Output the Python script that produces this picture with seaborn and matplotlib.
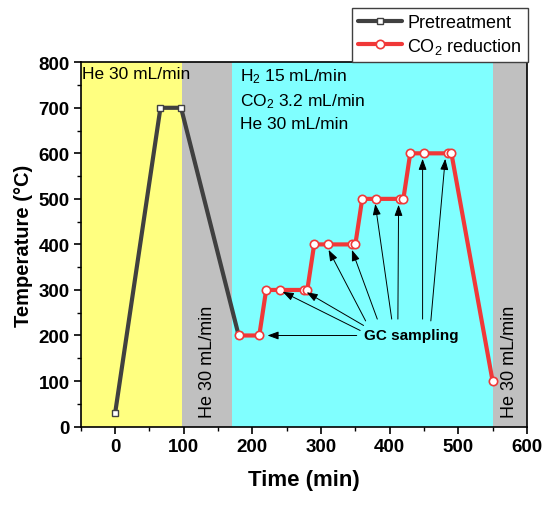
import matplotlib
matplotlib.use("Agg")
import matplotlib.pyplot as plt
import seaborn as sns
import pandas as pd
from matplotlib.ticker import MultipleLocator

# ---- data ----
pre_time = [0, 66, 96, 180]
pre_temp = [30, 700, 700, 200]
co2_time = [180, 210, 220, 240, 275, 280, 290, 310, 345, 350, 360, 380, 415, 420, 430, 450, 485, 490, 550]
co2_temp = [200, 200, 300, 300, 300, 300, 400, 400, 400, 400, 500, 500, 500, 500, 600, 600, 600, 600, 100]
# regions (start, end) in minutes
yellow_region = (-50, 98)
gray_regions = [(98, 170), (550, 600)]
cyan_region = (170, 550)
# GC sampling arrows: (tip_x, tip_y, tail_x, tail_y)
arrow_tips = [(222, 200), (244, 296), (279, 295), (311, 388), (345, 388), (379, 489), (413, 487), (448, 588), (481, 588)]
arrow_tails = [(352, 200), (357, 211), (362, 222), (365, 232), (382, 236), (403, 236), (412, 236), (448, 236), (460, 232)]

sns.set_theme(style="ticks")
plt.rcParams['font.family'] = ['Liberation Sans', 'DejaVu Sans']
plt.rcParams['mathtext.default'] = 'regular'
for k in ['text.color', 'axes.labelcolor', 'xtick.color', 'ytick.color', 'axes.edgecolor']:
    plt.rcParams[k] = 'black'

fig = plt.figure(figsize=(5.5, 5.06), dpi=100)
ax = fig.add_axes([0.147, 0.155, 0.811, 0.72])

ax.axvspan(*yellow_region, color='#FFFF80', lw=0, zorder=0)
for a, b in gray_regions:
    ax.axvspan(a, b, color='#C0C0C0', lw=0, zorder=0)
ax.axvspan(*cyan_region, color='#80FFFF', lw=0, zorder=0)

df_pre = pd.DataFrame({'t': pre_time, 'T': pre_temp})
df_co2 = pd.DataFrame({'t': co2_time, 'T': co2_temp})
sns.lineplot(data=df_pre, x='t', y='T', ax=ax, sort=False, estimator=None,
             color='#404040', lw=3, marker='s', markersize=4.5,
             markerfacecolor='white', markeredgecolor='#404040', markeredgewidth=1,
             label='Pretreatment', zorder=3)
sns.lineplot(data=df_co2, x='t', y='T', ax=ax, sort=False, estimator=None,
             color='#F03838', lw=3, marker='o', markersize=6,
             markerfacecolor='white', markeredgecolor='#F03838', markeredgewidth=1.2,
             label='CO$_2$ reduction', zorder=4)

for (tx, ty), (sx, sy) in zip(arrow_tips, arrow_tails):
    ax.annotate('', xy=(tx, ty), xytext=(sx, sy),
                arrowprops=dict(arrowstyle='-|>,head_length=0.55,head_width=0.2',
                                color='black', lw=0.7, shrinkA=0, shrinkB=0), zorder=5)
ax.text(432, 200, 'GC sampling', ha='center', va='center', fontsize=11,
        fontweight='bold', zorder=6)

ax.text(-48, 792, 'He 30 mL/min', ha='left', va='top', fontsize=12.5)
ax.text(182, 792, 'H$_2$ 15 mL/min\nCO$_2$ 3.2 mL/min\nHe 30 mL/min', ha='left', va='top',
        fontsize=12.5, linespacing=1.5)
ax.text(134, 22, 'He 30 mL/min', rotation=90, ha='center', va='bottom', fontsize=13)
ax.text(575, 22, 'He 30 mL/min', rotation=90, ha='center', va='bottom', fontsize=13)

ax.set_xlim(-50, 600)
ax.set_ylim(0, 800)
ax.xaxis.set_major_locator(MultipleLocator(100))
ax.xaxis.set_minor_locator(MultipleLocator(50))
ax.yaxis.set_major_locator(MultipleLocator(100))
ax.yaxis.set_minor_locator(MultipleLocator(50))
ax.tick_params(which='major', direction='out', length=5, width=1.2, labelsize=13.5, pad=3,
               color='black', labelcolor='black')
ax.tick_params(which='minor', direction='out', length=3, width=1.0, color='black')
for lab in ax.get_xticklabels() + ax.get_yticklabels():
    lab.set_fontweight('bold')
for s in ax.spines.values():
    s.set_linewidth(1.2)
    s.set_color('black')

ax.set_xlabel('Time (min)', fontsize=16, fontweight='bold', labelpad=10, color='black')
ax.set_ylabel('Temperature (°C)', fontsize=14.5, fontweight='bold', labelpad=4, color='black')

leg = ax.legend(loc='lower right', bbox_to_anchor=(528/550, 1 - 63/506),
                bbox_transform=fig.transFigure, fontsize=13, frameon=True,
                fancybox=False, edgecolor='#404040', framealpha=1,
                handlelength=2.4, handletextpad=0.3, borderpad=0.35, labelspacing=0.25,
                borderaxespad=0)
leg.get_frame().set_linewidth(1.0)
for t in leg.get_texts():
    t.set_color('black')

fig.savefig('out.png', dpi=100)
